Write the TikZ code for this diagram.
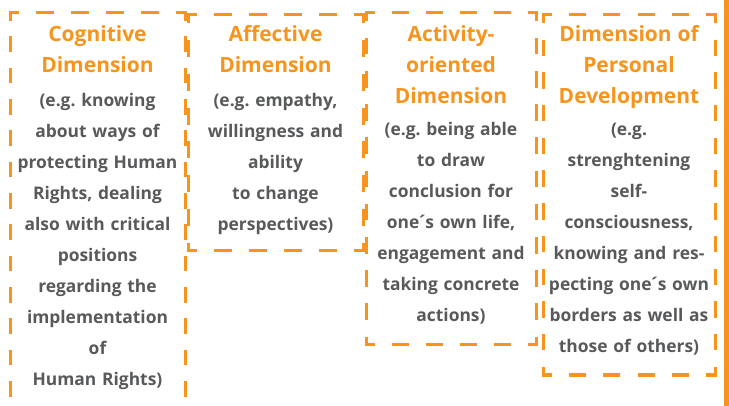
\documentclass[tikz,border=0pt]{standalone}
\usepackage{fontspec}
\setmainfont{Open Sans}
\definecolor{dimorange}{RGB}{247,148,30}
\definecolor{dimgray}{RGB}{88,89,91}
\newcommand{\dimtitle}{\fontsize{21}{31}\selectfont\color{dimorange}}
\newcommand{\dimbody}{\fontsize{17.4}{31}\selectfont\color{dimgray}}
\newcommand{\acu}{\kern-2.2pt´\kern-2.2pt}
\begin{document}
\begin{tikzpicture}[x=1pt,y=-1pt,
    dimline/.style={draw=dimorange,line width=3pt,line cap=rect},
    dimtext/.style={anchor=north,inner sep=0pt,text width=200pt,align=center,
      font=\bfseries\frenchspacing\fontsize{17.4}{31}\selectfont}]
    \clip (0,0) rectangle (729,406);
    \foreach \xa/\ya/\xb/\yb in {10/13/185/420,188/15/363/251,366/13/536/345,543/15/715/375}{
        \pgfmathsetmacro{\pw}{(\xb-\xa)/round((\xb-\xa)/32)}
        \pgfmathsetmacro{\ph}{(\yb-\ya)/round((\yb-\ya)/32)}
        \pgfmathsetlengthmacro{\wa}{\pw/2-3}
        \pgfmathsetlengthmacro{\wb}{\pw/2+3}
        \pgfmathsetlengthmacro{\wc}{\pw/4-1.5}
        \pgfmathsetlengthmacro{\ha}{\ph/2-3}
        \pgfmathsetlengthmacro{\hb}{\ph/2+3}
        \pgfmathsetlengthmacro{\hc}{\ph/4-1.5}
        \draw[dimline,dash pattern=on \wa off \wb,dash phase=\wc] (\xa,\ya)--(\xb,\ya);
        \draw[dimline,dash pattern=on \ha off \hb,dash phase=\hc] (\xb,\ya)--(\xb,\yb);
        \draw[dimline,dash pattern=on \wa off \wb,dash phase=\wc] (\xb,\yb)--(\xa,\yb);
        \draw[dimline,dash pattern=on \ha off \hb,dash phase=\hc] (\xa,\yb)--(\xa,\ya);
    }
    \fill[dimorange] (724,0) rectangle (729,406);
    \node[dimtext] (cogtext) at (97.5,25) {\dimtitle Cognitive\\Dimension\\[3pt]
        \dimbody (e.g. knowing\\about ways of\\protecting Human\\Rights, dealing\\also with critical\\positions\\regarding the\\implementation\\of\\Human Rights)};
    \node[dimtext] (afftext) at (275.5,25) {\dimtitle Affective\\Dimension\\[3pt]
        \dimbody (e.g. empathy,\\willingness and\\ability\\to change\\perspectives)};
    \node[dimtext] (acttext) at (451,25) {\dimtitle Activity-\\oriented\\Dimension\\[1pt]
        \dimbody (e.g. being able\\to draw\\conclusion for\\one\acu s own life,\\engagement and\\taking concrete\\actions)};
    \node[dimtext] (perstext) at (629,25) {\dimtitle Dimension of\\Personal\\Development\\[1pt]
        \dimbody (e.g.\\strenghtening\\self-\\consciousness,\\knowing and res-\\pecting one\acu s own\\borders as well as\\those of others)};
\end{tikzpicture}
\end{document}
